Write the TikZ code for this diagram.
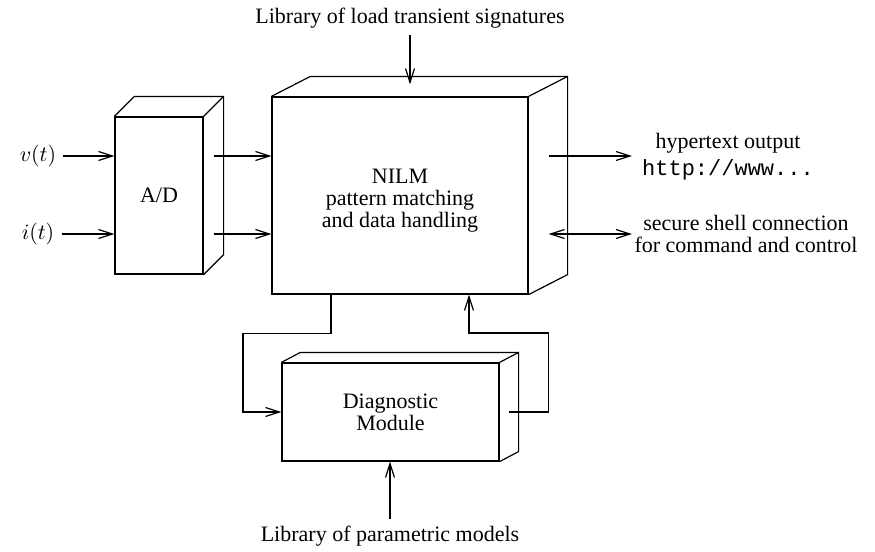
\documentclass[tikz,border=0pt]{standalone}
\usepackage{fontspec}
\setmainfont{Liberation Serif}
\setmonofont{Liberation Mono}
\usetikzlibrary{arrows.meta, positioning, calc}
\tikzset{
  box/.style={draw, fill=white, inner sep=0pt, align=center, font=\fontsize{11}{11}\selectfont},
  lbl/.style={align=center, font=\fontsize{11}{11}\selectfont},
  >={Straight Barb[length=7pt, width=4.5pt]}
}
% top and side faces of a box node
\newcommand{\boxdepth}[3]{%
  \draw (#1.north west) -- ++(#2,#3) -- ([shift={(#2,#3)}]#1.north east)
    -- ([shift={(#2,#3)}]#1.south east) -- (#1.south east);
  \draw (#1.north east) -- ++(#2,#3);
}

\begin{document}
\begin{tikzpicture}[x=0.5pt, y=-0.5pt, line width=0.6pt]
  \useasboundingbox (0,0) rectangle (875,552);
  % boxes
  \node[box, minimum width=44pt, minimum height=78.5pt] (ad) at (159,195.5) {A/D};
  \boxdepth{ad}{20}{-20}
  \node[box, minimum width=128pt, minimum height=98.5pt] (nilm) at (400,195.5) {\rule{0pt}{12pt}NILM\\pattern matching\\and data handling};
  \boxdepth{nilm}{39}{-20}
  \node[box, minimum width=108.5pt, minimum height=49pt] (diag) at (390.5,412) {Diagnostic\\Module};
  \boxdepth{diag}{19}{-10}
  % labels
  \node[lbl] (vt) at (38,156) {$v(t)$};
  \node[lbl] (it) at (38,234) {$i(t)$};
  \node[lbl] (lib1) at (410,18) {Library of load transient signatures};
  \node[lbl] (lib2) at (390,536) {Library of parametric models};
  \node[lbl] (web) at (728,156.5) {hypertext output\\[2.5pt]\texttt{http://www...}};
  \node[lbl, inner sep=1pt] (ssh) at (746,234) {secure shell connection\\for command and control};
  % inputs
  \draw[->] (vt) -- (vt -| ad.west);
  \draw[->] (it) -- (it -| ad.west);
  \coordinate (adv) at ($(ad.east |- vt)+(10,0)$);
  \coordinate (adi) at ($(ad.east |- it)+(10,0)$);
  \draw[->] (adv) -- (adv -| nilm.west);
  \draw[->] (adi) -- (adi -| nilm.west);
  \coordinate (ntop) at ($(nilm.north)+(10,-12)$);
  \draw[->] (lib1) -- (ntop);
  % outputs
  \coordinate (nweb) at ($(nilm.east |- vt)+(20,0)$);
  \coordinate (nssh) at ($(nilm.east |- it)+(20,0)$);
  \draw[->] (nweb) -- (nweb -| ssh.west);
  \draw[<->] (nssh) -- (nssh -| ssh.west);
  % diagnostic loop
  \coordinate (nl) at ($(nilm.south)+(-69,0)$);
  \coordinate (nr) at ($(nilm.south)+(69,0)$);
  \coordinate (dside) at ($(diag.east)+(9,0)$);
  \draw[->] (nl) -- ++(0,39) -- ++(-88,0) |- (diag.west);
  \draw[->] (dside) -- ++(40,0) -- ++(0,-79) -| (nr);
  \draw[->] (lib2) -- (lib2 |- diag.south);
\end{tikzpicture}
\end{document}
